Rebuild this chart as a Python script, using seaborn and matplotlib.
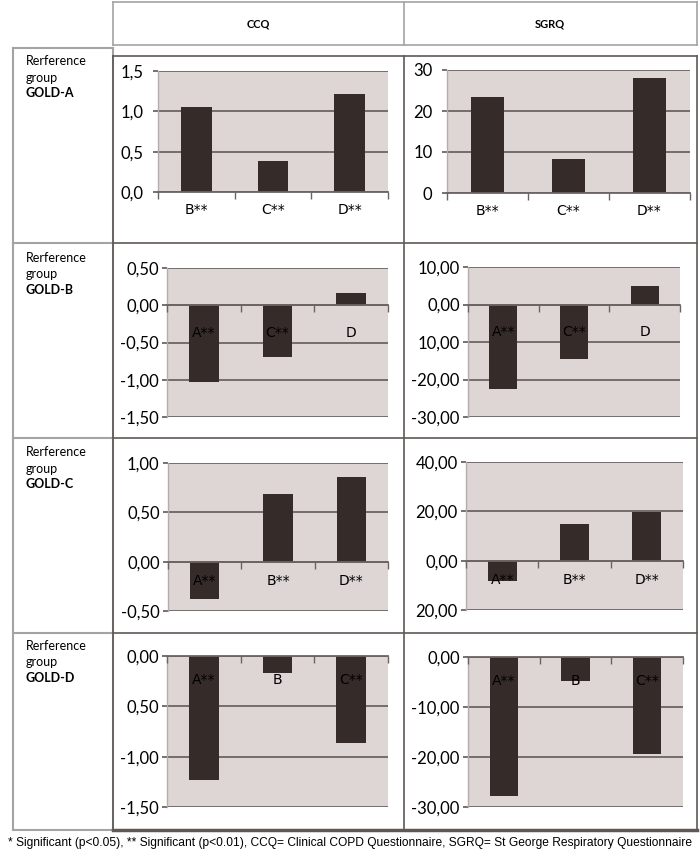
import matplotlib
matplotlib.use("Agg")
import matplotlib.pyplot as plt
import seaborn as sns
from matplotlib.lines import Line2D

# Change in score versus the reference GOLD group
cats_ref_a = ["B**", "C**", "D**"]
ccq_ref_a = [1.05, 0.38, 1.21]
sgrq_ref_a = [23.3, 8.4, 28.0]

cats_ref_b = ["A**", "C**", "D"]
ccq_ref_b = [-1.03, -0.69, 0.16]
sgrq_ref_b = [-22.6, -14.6, 4.9]

cats_ref_c = ["A**", "B**", "D**"]
ccq_ref_c = [-0.38, 0.69, 0.86]
sgrq_ref_c = [-8.4, 15.0, 19.8]

cats_ref_d = ["A**", "B", "C**"]
ccq_ref_d = [-1.23, -0.17, -0.86]
sgrq_ref_d = [-27.7, -4.7, -19.3]

# y ticks and their labels as printed in the original
ccq_a_ticks = [0, 0.5, 1.0, 1.5]
ccq_a_labels = ["0,0", "0,5", "1,0", "1,5"]
sgrq_a_ticks = [0, 10, 20, 30]
sgrq_a_labels = ["0", "10", "20", "30"]
ccq_b_ticks = [-1.5, -1.0, -0.5, 0, 0.5]
ccq_b_labels = ["-1,50", "-1,00", "-0,50", "0,00", "0,50"]
sgrq_b_ticks = [-30, -20, -10, 0, 10]
sgrq_b_labels = ["-30,00", "-20,00", "10,00", "0,00", "10,00"]
ccq_c_ticks = [-0.5, 0, 0.5, 1.0]
ccq_c_labels = ["-0,50", "0,00", "0,50", "1,00"]
sgrq_c_ticks = [-20, 0, 20, 40]
sgrq_c_labels = ["20,00", "0,00", "20,00", "40,00"]
ccq_d_ticks = [-1.5, -1.0, -0.5, 0]
ccq_d_labels = ["-1,50", "-1,00", "0,50", "0,00"]
sgrq_d_ticks = [-30, -20, -10, 0]
sgrq_d_labels = ["-30,00", "-20,00", "-10,00", "0,00"]

row_names = ["GOLD-A", "GOLD-B", "GOLD-C", "GOLD-D"]
col_names = ["CCQ", "SGRQ"]
footnote = ("* Significant (p<0.05), ** Significant (p<0.01), CCQ= Clinical COPD "
            "Questionnaire, SGRQ= St George Respiratory Questionnaire")

BAR = "#352c2a"
BG = "#ddd6d4"
GRID = "#6b6462"
CELL = "#5f5856"
TABLE = "#a3a3a3"

W, H = 700, 858
fig = plt.figure(figsize=(W / 100, H / 100), dpi=100)

def fx(x):
    return x / W

def fy(y):
    return 1 - y / H

def hline(y, x0, x1, color, lw):
    fig.add_artist(Line2D([fx(x0), fx(x1)], [fy(y), fy(y)], color=color, lw=lw,
                          transform=fig.transFigure))

def vline(x, y0, y1, color, lw):
    fig.add_artist(Line2D([fx(x), fx(x)], [fy(y0), fy(y1)], color=color, lw=lw,
                          transform=fig.transFigure))

TICKFONT = ["Lato", "DejaVu Sans"]
LABFONT = ["Lato", "DejaVu Sans"]

def panel(box, cats, vals, ylim, ticks, labels, xpad, ypad):
    l, t, r, b = box
    ax = fig.add_axes([fx(l), fy(b), fx(r - l), (b - t) / H])
    ax.set_facecolor(BG)
    sns.barplot(x=cats, y=vals, color=BAR, saturation=1, width=0.4, ax=ax, zorder=2)
    ax.set_xlim(-0.5, 2.5)
    ax.set_ylim(*ylim)
    ax.set_yticks(ticks)
    ax.set_yticklabels(labels, fontfamily=TICKFONT, fontsize=12)
    ax.set_xticks(range(3))
    ax.set_xticklabels(cats, fontfamily=TICKFONT, fontsize=12)
    ax.set_xticks([-0.5, 0.5, 1.5, 2.5], minor=True)
    ax.set_xlabel("")
    ax.set_ylabel("")
    ax.yaxis.grid(True, color=GRID, lw=1.3)
    ax.set_axisbelow(True)
    # category labels sit on top of the bars, as in the original
    ax.xaxis.set_zorder(3)
    for s in ["top", "right"]:
        ax.spines[s].set_visible(False)
    ax.spines["left"].set_color("#b5adab")
    ax.spines["left"].set_linewidth(1)
    ax.spines["bottom"].set_position(("data", 0))
    ax.spines["bottom"].set_color(GRID)
    ax.spines["bottom"].set_linewidth(1.3)
    ax.spines["bottom"].set_zorder(3)
    ax.tick_params(axis="x", which="major", length=0, pad=xpad)
    ax.tick_params(axis="x", which="minor", length=5, color=GRID, width=1)
    ax.tick_params(axis="y", length=3.5, color=GRID, width=1.3, pad=ypad)
    return ax

rows = [
    (cats_ref_a, ccq_ref_a, sgrq_ref_a, (0, 1.5), (0, 30),
     ccq_a_ticks, ccq_a_labels, sgrq_a_ticks, sgrq_a_labels),
    (cats_ref_b, ccq_ref_b, sgrq_ref_b, (-1.5, 0.5), (-30, 10),
     ccq_b_ticks, ccq_b_labels, sgrq_b_ticks, sgrq_b_labels),
    (cats_ref_c, ccq_ref_c, sgrq_ref_c, (-0.5, 1.0), (-20, 40),
     ccq_c_ticks, ccq_c_labels, sgrq_c_ticks, sgrq_c_labels),
    (cats_ref_d, ccq_ref_d, sgrq_ref_d, (-1.5, 0), (-30, 0),
     ccq_d_ticks, ccq_d_labels, sgrq_d_ticks, sgrq_d_labels),
]
# plot areas in pixels: left, top, right, bottom
ccq_boxes = [(158, 71, 388, 192), (167, 268, 388, 417), (168, 463, 388, 611), (167, 656, 388, 807)]
sgrq_boxes = [(447, 70, 690, 193), (468, 267, 680, 417), (466, 462, 683, 610), (468, 657, 683, 807)]
xpads = [8, 15, 9, 12]
ypads = [7, 2.5, 2.5, 2.5]

for i, (cats, ccq, sgrq, ylc, yls, tc, lc, ts, ls) in enumerate(rows):
    panel(ccq_boxes[i], cats, ccq, ylc, tc, lc, xpads[i], ypads[i])
    panel(sgrq_boxes[i], cats, sgrq, yls, ts, ls, xpads[i], ypads[i])

# table frame
row_lines = [56, 243, 438, 633, 830]
hline(2, 113, 697, TABLE, 1.2)
hline(45, 113, 697, TABLE, 1.2)
for x in [113, 404, 697]:
    vline(x, 2, 45, TABLE, 1.2)
left_lines = [48, 243, 438, 633, 830]
for y in left_lines:
    hline(y, 13, 113, TABLE, 1.5)
vline(13, 48, 830, TABLE, 1.5)
vline(113, 48, 830, TABLE, 1.5)
for y in row_lines[:-1]:
    hline(y, 113, 697, CELL, 1.2)
hline(830, 113, 697, CELL, 2.5)
for x in [113, 404, 697]:
    vline(x, 56, 830, CELL, 1.2)

for x, name in zip([258, 550], col_names):
    fig.text(fx(x), fy(24), name, ha="center", va="center", fontsize=8,
             fontweight="bold", family=LABFONT)

label_tops = [55, 252, 446, 640]
for y, name in zip(label_tops, row_names):
    fig.text(fx(26), fy(y), "Rerference\ngroup", ha="left", va="top", fontsize=9,
             family=LABFONT, linespacing=1.45)
    fig.text(fx(26), fy(y + 32), name, ha="left", va="top", fontsize=9,
             fontweight="bold", family=LABFONT)

fig.text(fx(350), fy(843), footnote, ha="center", va="center", fontsize=8.65,
         family=["Liberation Sans", "DejaVu Sans"])

fig.savefig("out.png", dpi=100, facecolor="white")
